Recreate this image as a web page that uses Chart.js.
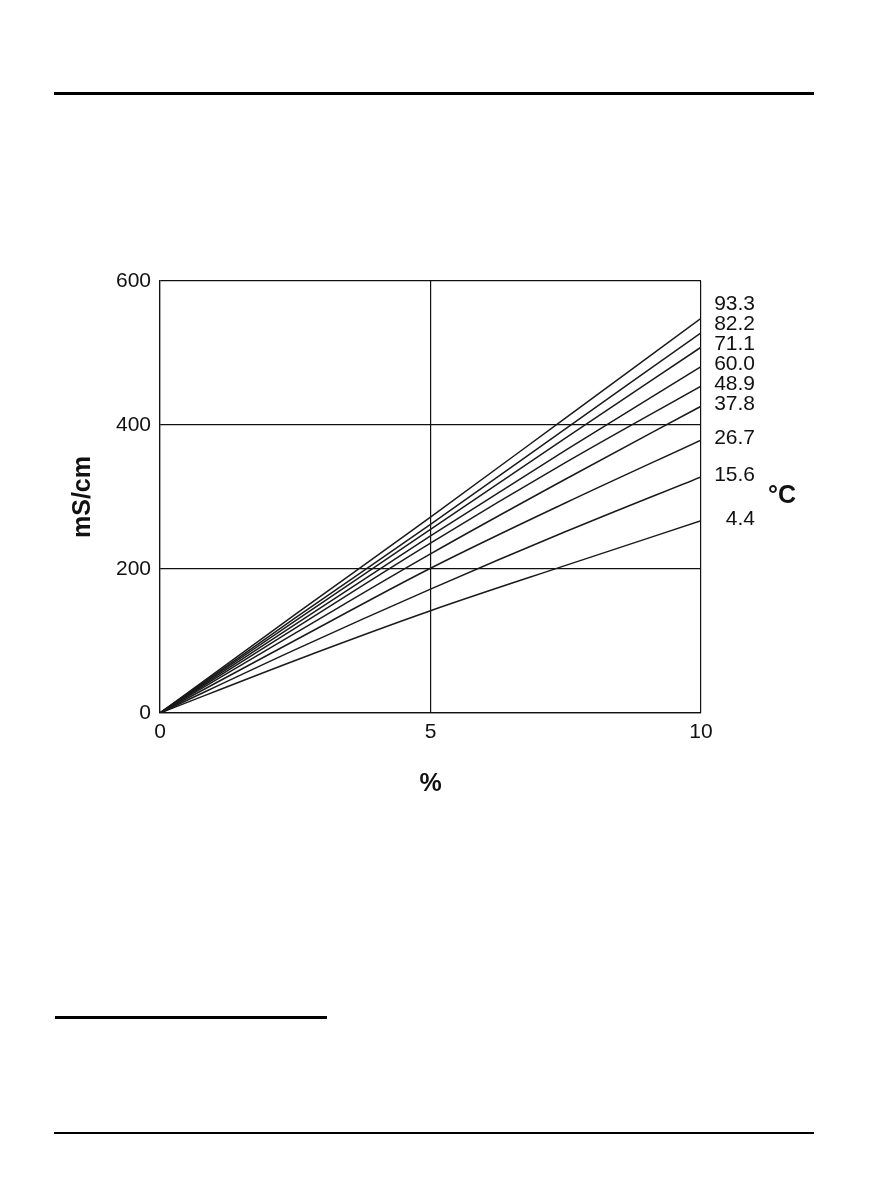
<!DOCTYPE html>
<html>
<head>
<meta charset="utf-8">
<script src="https://cdn.jsdelivr.net/npm/chart.js@4"></script>
<style>
  html, body { margin: 0; padding: 0; background: #fff; }
  body { width: 891px; height: 1188px; position: relative; overflow: hidden; }
  .rule { position: absolute; background: #000; }
  #wrap { position: absolute; left: 0; top: 0; width: 891px; height: 1188px; }
</style>
</head>
<body>
<div class="rule" style="left:54px; top:92px; width:760px; height:3px;"></div>
<div class="rule" style="left:55px; top:1016px; width:272px; height:3px;"></div>
<div class="rule" style="left:54px; top:1132px; width:760px; height:1.5px;"></div>
<div id="wrap"><canvas id="grafico"></canvas></div>
<script>
// concentração (%) no eixo x
const concentracao = [0, 2.5, 5, 7.5, 10];
// temperaturas de cada curva (°C)
const temperaturas = ['93.3', '82.2', '71.1', '60.0', '48.9', '37.8', '26.7', '15.6', '4.4'];
// condutividade (mS/cm), uma lista por temperatura
const cond_93_3 = [0, 137, 272, 410, 548];
const cond_82_2 = [0, 132, 262, 395, 528];
const cond_71_1 = [0, 128, 255, 382, 508];
const cond_60_0 = [0, 123, 246, 365, 481];
const cond_48_9 = [0, 118, 236, 348, 454];
const cond_37_8 = [0, 111, 221, 325, 426];
const cond_26_7 = [0, 101, 201, 292, 379];
const cond_15_6 = [0, 88, 172, 252, 328];
const cond_4_4  = [0, 73, 142, 205, 267];
const series = [cond_93_3, cond_82_2, cond_71_1, cond_60_0, cond_48_9, cond_37_8, cond_26_7, cond_15_6, cond_4_4];
const yTicks = [0, 200, 400, 600];
const xTicks = [0, 5, 10];

const FONT = "'Liberation Sans', Arial, sans-serif";
Chart.defaults.font.family = FONT;
Chart.defaults.color = '#111';

// Desenha os rótulos de temperatura à direita e o "°C"
const rotulosPlugin = {
    id: 'rotulos',
    afterDraw(chart) {
        const ctx = chart.ctx;
        const area = chart.chartArea;
        ctx.save();
        ctx.fillStyle = '#111';
        ctx.font = '21px ' + FONT;
        ctx.textAlign = 'right';
        ctx.textBaseline = 'middle';
        // posições a partir do fim de cada curva, evitando sobreposição (de baixo para cima)
        let prev = Infinity;
        const ys = [];
        for (let i = chart.data.datasets.length - 1; i >= 0; i--) {
            const pts = chart.getDatasetMeta(i).data;
            let y = pts[pts.length - 1].y - 2;
            y = Math.min(y, prev - 20);
            ys[i] = y;
            prev = y;
        }
        chart.data.datasets.forEach((ds, i) => {
            ctx.fillText(ds.label, area.right + 54, ys[i]);
        });
        ctx.font = 'bold 25px ' + FONT;
        ctx.textAlign = 'left';
        ctx.fillText('°C', area.right + 67, 496);
        ctx.restore();
    }
};

new Chart(document.getElementById('grafico'), {
    type: 'line',
    data: {
        datasets: series.map((vals, i) => ({
            label: temperaturas[i],
            data: concentracao.map((x, j) => ({ x: x, y: vals[j] })),
            borderColor: '#1a1a1a',
            borderWidth: 1.5,
            pointRadius: 0,
            cubicInterpolationMode: 'monotone',
            fill: false
        }))
    },
    options: {
        responsive: true,
        maintainAspectRatio: false,
        animation: false,
        layout: { padding: { left: 60, right: 190, top: 281, bottom: 385 } },
        plugins: { legend: { display: false }, tooltip: { enabled: false } },
        scales: {
            x: {
                type: 'linear',
                min: 0, max: 10,
                afterBuildTicks: s => { s.ticks = xTicks.map(v => ({ value: v })); },
                afterFit: s => { s.height = 90; },
                grid: { color: '#111', lineWidth: 1.2, drawTicks: false },
                border: { color: '#111', width: 1.2 },
                ticks: { font: { size: 21 }, padding: 7, color: '#111' },
                title: { display: true, text: '%', font: { size: 25, weight: 'bold' }, color: '#111', padding: { top: 20 } }
            },
            y: {
                min: 0, max: 600,
                afterBuildTicks: s => { s.ticks = yTicks.map(v => ({ value: v })); },
                afterFit: s => { s.width = 100; },
                grid: { color: '#111', lineWidth: 1.2, drawTicks: false },
                border: { color: '#111', width: 1.2 },
                ticks: { font: { size: 21 }, padding: 9, color: '#111' },
                title: { display: true, text: 'mS/cm', font: { size: 25, weight: 'bold' }, color: '#111', padding: { top: 8 } }
            }
        }
    },
    plugins: [rotulosPlugin]
});
</script>
</body>
</html>
